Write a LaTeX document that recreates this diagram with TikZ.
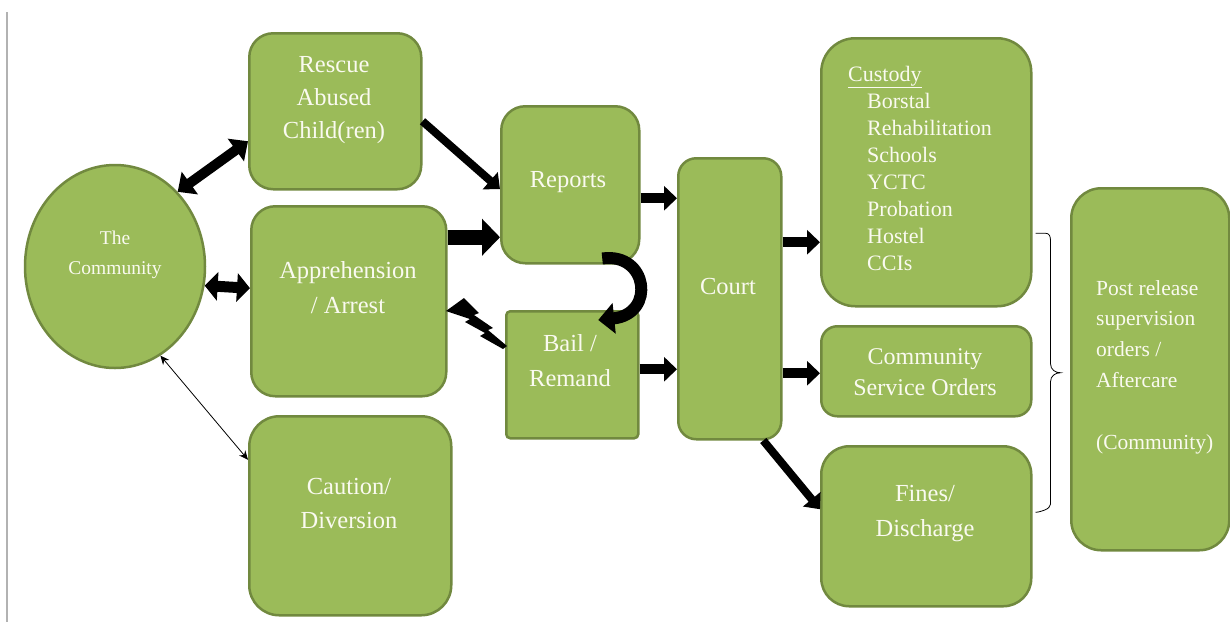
\documentclass[tikz,border=0pt]{standalone}
\usepackage{fontspec}
\setmainfont{Liberation Serif}
\newfontfamily\garfont{Liberation Serif}
\usetikzlibrary{arrows.meta,shapes.geometric,calc}
\definecolor{boxfill}{HTML}{9BBB59}
\definecolor{boxedge}{HTML}{71893F}
\definecolor{txtc}{HTML}{FAFAF0}
\begin{document}
\begin{tikzpicture}[x=1pt,y=-1pt,
  box/.style={draw=boxedge,fill=boxfill,line width=2.5pt,rounded corners=#1,anchor=north west,inner sep=0pt},
  box/.default=24pt,
  lbl/.style={text=txtc,font=\garfont\fontsize{24.5}{35}\selectfont,align=center,inner sep=0pt},
  bigtip/.style={line width=12pt,-{Triangle[length=16pt,width=30pt]}},
  midtip/.style={line width=10pt,-{Triangle[length=13pt,width=24pt]}},
  thintip/.style={line width=8pt,-{Triangle[length=13pt,width=22pt]}}
]
\useasboundingbox (0,0) rectangle (1230,622);
% left grey rule
\draw[gray!60,line width=2pt] (7,12) -- (7,622);

% shapes
\node[ellipse,draw=boxedge,fill=boxfill,line width=2.5pt,minimum width=180pt,minimum height=203pt,inner sep=0pt] (comm) at (115,266.5) {};
\node[box,minimum width=172pt,minimum height=156pt] (rescue) at (248,32) {};
\node[box,minimum width=195pt,minimum height=190pt] (app) at (250,205) {};
\node[box=30pt,minimum width=202pt,minimum height=199pt] (caution) at (248,415) {};
\node[box,minimum width=138pt,minimum height=157pt] (reports) at (500,105) {};
\node[box=4pt,minimum width=132pt,minimum height=127pt] (bail) at (505,310) {};
\node[box=18pt,minimum width=103pt,minimum height=281pt] (court) at (677,157) {};
\node[box=34pt,minimum width=210pt,minimum height=268pt] (custody) at (820,37) {};
\node[box=16pt,minimum width=210pt,minimum height=90pt] (cso) at (820,325) {};
\node[box=28pt,minimum width=210pt,minimum height=160pt] (fines) at (820,445) {};
\node[box=30pt,minimum width=158pt,minimum height=362pt] (post) at (1070,187) {};

% texts
\node[lbl,font=\garfont\fontsize{19.5}{30}\selectfont] (tcomm) at (115,255) {The\\Community};
\node[lbl,font=\garfont\fontsize{24.5}{33}\selectfont] (tres) at (334,100) {Rescue\\Abused\\Child(ren)};
\node[lbl] (tapp) at (348,287.5) {Apprehension\\/ Arrest};
\node[lbl,font=\garfont\fontsize{24.5}{34}\selectfont] (tcau) at (349,503) {Caution/\\Diversion};
\node[lbl] (trep) at (568,182) {Reports};
\node[lbl] (tbail) at (570,360.5) {Bail /\\Remand};
\node[lbl] (tcourt) at (728,286) {Court};
\node[lbl,font=\garfont\fontsize{24}{31}\selectfont] (tcso) at (925,372.5) {Community\\Service Orders};
\node[lbl] (tfin) at (925,513.5) {Fines/\\Discharge};
\node[lbl,font=\garfont\fontsize{22}{27}\selectfont,align=left,anchor=west] (tcus) at (848,168.5)
  {\underline{Custody}\\
   \hspace*{19pt}Borstal\\
   \hspace*{19pt}Rehabilitation\\
   \hspace*{19pt}Schools\\
   \hspace*{19pt}YCTC\\
   \hspace*{19pt}Probation\\
   \hspace*{19pt}Hostel\\
   \hspace*{19pt}CCIs};
\node[lbl,font=\garfont\fontsize{21.5}{30.8}\selectfont,align=left,anchor=west] (tpost) at (1096,367)
  {Post release\\supervision\\orders /\\Aftercare\\[30.8pt](Community)};

% connectors
\draw[line width=10pt,{Triangle[length=15pt,width=27pt]}-{Triangle[length=15pt,width=27pt]}]
  (comm.50) -- ([yshift=-30pt]rescue.west);
\draw[line width=11pt,{Triangle[length=13pt,width=28pt]}-{Triangle[length=13pt,width=28pt]}]
  (comm.-12) -- ([yshift=13pt]app.west);
\draw[line width=0.8pt,{Stealth[length=9pt,width=8pt]}-{Stealth[length=9pt,width=8pt]}]
  (comm.-63) -- ([yshift=56pt]caution.west);
\draw[thintip] ([yshift=-10pt]rescue.east) -- ([yshift=-4.5pt]reports.west);
\draw[line width=15pt,-{Triangle[length=18pt,width=36pt]}] ([yshift=64pt]app.east) -- ([yshift=-52.5pt]reports.west);
\draw[midtip] ([yshift=-13.5pt]reports.east) -- ([yshift=100.5pt]court.west);
\draw[midtip] ([yshift=5.5pt]bail.east) -- ([yshift=-70.5pt]court.west);
\draw[midtip] ([yshift=56.5pt]court.east) -- ([yshift=-70pt]custody.west);
\draw[midtip] ([yshift=-74.5pt]court.east) -- ([yshift=-2pt]cso.west);
\draw[thintip] ([xshift=33.5pt]court.south) -- ([yshift=17pt]fines.west);
\draw[bigtip] ([xshift=32pt,yshift=6pt]reports.south) .. controls (648,252) and (656,314) .. ([xshift=26pt,yshift=-10pt]bail.north);

% lightning bolt from Bail to Apprehension
\fill[black] (446,311) -- (464,298) -- (479,313) -- (474,315) -- (493,328) -- (488,330)
  -- (507,346) -- (503,349) -- (480,336) -- (485,333) -- (465,322) -- (470,319) -- cycle;

% brace
\coordinate (bt) at ([xshift=3pt,yshift=-61pt]custody.east);
\coordinate (bb) at ([xshift=3pt,yshift=14pt]fines.east);
\draw[line width=0.8pt] (bt) -- ++(10,0) .. controls ++(4,0) and ++(0,-5) .. ++(5,8)
  -- ($(bt)!0.5!(bb)+(15,-9)$) .. controls ++(0,6) and ++(-5,0) .. ($(bt)!0.5!(bb)+(25,0)$)
  .. controls ++(-5,0) and ++(0,-6) .. ($(bt)!0.5!(bb)+(15,9)$)
  -- ($(bb)+(15,-8)$) .. controls ++(0,5) and ++(4,0) .. (bb);
\end{tikzpicture}
\end{document}
